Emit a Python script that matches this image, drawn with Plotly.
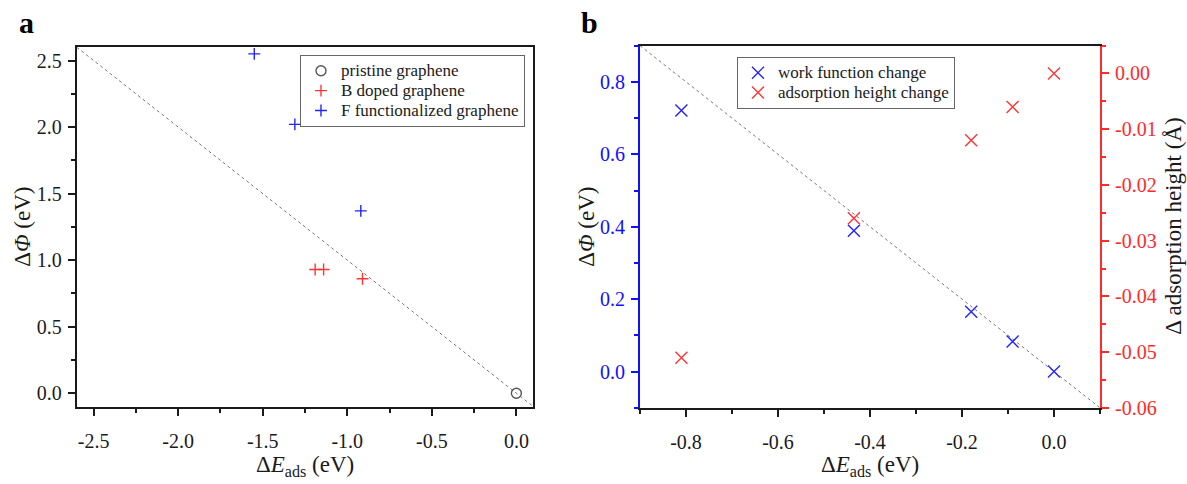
import plotly.graph_objects as go

# ---------------- data: panel a ----------------
pristine_x = [0.0]
pristine_y = [0.0]
b_doped_x = [-1.19, -1.14, -0.91]
b_doped_y = [0.93, 0.93, 0.86]
f_func_x = [-1.55, -1.31, -0.92]
f_func_y = [2.55, 2.02, 1.37]

# ---------------- data: panel b ----------------
eads_b = [-0.81, -0.435, -0.18, -0.09, 0.0]
work_function_change = [0.721, 0.389, 0.165, 0.083, 0.0]
adsorption_height_change = [-0.051, -0.026, -0.012, -0.006, 0.0]

# ---------------- ticks / ranges ----------------
xticks_a = [-2.5, -2.0, -1.5, -1.0, -0.5, 0.0]
yticks_a = [0.0, 0.5, 1.0, 1.5, 2.0, 2.5]
xticks_b = [-0.8, -0.6, -0.4, -0.2, 0.0]
yticks_b = [0.0, 0.2, 0.4, 0.6, 0.8]
yticks_b_right = [-0.06, -0.05, -0.04, -0.03, -0.02, -0.01, 0.0]
xrange_a = [-2.6, 0.1]
yrange_a = [-0.1, 2.6]
xrange_b = [-0.9, 0.1]
yrange_b = [-0.1, 0.9]
yrange_b_right = [-0.06, 0.005]

FONT = "Liberation Serif, Times New Roman, serif"
BLUE = "#2323FF"
RED = "#FF3535"
BLUE_AX = "#1010FF"
RED_AX = "#FF2A2A"
BLACK = "#1a1a1a"
W, H = 1187, 484


def lab(v, nd):
    return f"{v:.{nd}f}"


def lname(s):
    return f'<span style="font-size:17px">{s}</span>'


fig = go.Figure()

# diagonal reference lines (y = -x over the axis range)
fig.add_trace(go.Scatter(x=xrange_a, y=[-v for v in xrange_a], mode="lines",
                         line=dict(color="#777", width=1, dash="dot"),
                         showlegend=False, hoverinfo="skip", xaxis="x", yaxis="y"))
fig.add_trace(go.Scatter(x=xrange_b, y=[-v for v in xrange_b], mode="lines",
                         line=dict(color="#777", width=1, dash="dot"),
                         showlegend=False, hoverinfo="skip", xaxis="x2", yaxis="y2"))

# panel a markers
fig.add_trace(go.Scatter(x=pristine_x, y=pristine_y, mode="markers", name=lname("pristine graphene"),
                         marker=dict(symbol="circle-open", size=10, color="#555",
                                     line=dict(width=1.4, color="#555")),
                         xaxis="x", yaxis="y", legend="legend"))
fig.add_trace(go.Scatter(x=b_doped_x, y=b_doped_y, mode="markers", name=lname("B doped graphene"),
                         marker=dict(symbol="cross-thin-open", size=8.5, color=RED,
                                     line=dict(width=1.4, color=RED)),
                         xaxis="x", yaxis="y", legend="legend"))
fig.add_trace(go.Scatter(x=f_func_x, y=f_func_y, mode="markers",
                         name=lname("F functionalized graphene"),
                         marker=dict(symbol="cross-thin-open", size=8.5, color=BLUE,
                                     line=dict(width=1.4, color=BLUE)),
                         xaxis="x", yaxis="y", legend="legend"))

# panel b markers
fig.add_trace(go.Scatter(x=eads_b, y=work_function_change, mode="markers",
                         name=lname("work function change"),
                         marker=dict(symbol="x-thin-open", size=12, color=BLUE,
                                     line=dict(width=1.4, color=BLUE)),
                         xaxis="x2", yaxis="y2", legend="legend2"))
fig.add_trace(go.Scatter(x=eads_b, y=adsorption_height_change, mode="markers",
                         name=lname("adsorption height change"),
                         marker=dict(symbol="x-thin-open", size=12, color=RED,
                                     line=dict(width=1.4, color=RED)),
                         xaxis="x2", yaxis="y3", legend="legend2"))


def ax_common(color, standoff):
    return dict(showgrid=False, zeroline=False, showline=True, linecolor=color, linewidth=2,
                ticks="outside", ticklen=7, tickwidth=2, tickcolor=color,
                ticklabelstandoff=standoff,
                tickfont=dict(family=FONT, size=20, color=color))


xa = ax_common(BLACK, 8)
xa.update(domain=[76.7 / W, 533.3 / W], range=xrange_a, anchor="y", mirror=True,
          tickmode="array", tickvals=xticks_a, ticktext=[lab(v, 1) for v in xticks_a],
          minor=dict(ticks="outside", ticklen=4, tickwidth=2, tickcolor=BLACK, dtick=0.25, tick0=0))
ya = ax_common(BLACK, 2)
ya.update(domain=[1 - 416 / H, 1 - 48.3 / H], range=yrange_a, anchor="x", mirror=True,
          tickmode="array", tickvals=yticks_a, ticktext=[lab(v, 1) for v in yticks_a],
          minor=dict(ticks="outside", ticklen=4, tickwidth=2, tickcolor=BLACK, dtick=0.25, tick0=0))
xb = ax_common(BLACK, 8)
xb.update(domain=[640 / W, 1100 / W], range=xrange_b, anchor="y2", mirror=True,
          tickmode="array", tickvals=xticks_b, ticktext=[lab(v, 1) for v in xticks_b],
          minor=dict(ticks="outside", ticklen=4, tickwidth=2, tickcolor=BLACK, dtick=0.1, tick0=0))
yb = ax_common(BLUE_AX, 2)
yb.update(domain=[1 - 417.3 / H, 1 - 46.7 / H], range=yrange_b, anchor="x2",
          tickmode="array", tickvals=yticks_b, ticktext=[lab(v, 1) for v in yticks_b],
          minor=dict(ticks="outside", ticklen=4, tickwidth=2, tickcolor=BLUE_AX, dtick=0.1, tick0=0))
yb3 = ax_common(RED_AX, 2)
yb3.update(overlaying="y2", side="right", range=yrange_b_right, anchor="x2",
           tickmode="array", tickvals=yticks_b_right, ticktext=[lab(v, 2) for v in yticks_b_right],
           minor=dict(ticks="outside", ticklen=4, tickwidth=2, tickcolor=RED_AX, dtick=0.005, tick0=0))

legend_common = dict(font=dict(family=FONT, size=13, color=BLACK), bgcolor="white",
                     bordercolor="#666", borderwidth=1, xanchor="left", yanchor="top",
                     itemclick=False, itemdoubleclick=False, tracegroupgap=0)

title_font = dict(family=FONT, size=23, color=BLACK)
annotations = [
    dict(text="<b>a</b>", x=17 / W, y=1 - 23 / H, xref="paper", yref="paper", xanchor="left",
         yanchor="middle", showarrow=False, font=dict(family=FONT, size=30, color="black")),
    dict(text="<b>b</b>", x=579 / W, y=1 - 23 / H, xref="paper", yref="paper", xanchor="left",
         yanchor="middle", showarrow=False, font=dict(family=FONT, size=30, color="black")),
    dict(text="Δ<i>E</i><sub>ads</sub> (eV)", x=305 / W, y=1 - 477 / H, xref="paper", yref="paper",
         xanchor="center", yanchor="middle", showarrow=False, font=title_font),
    dict(text="Δ<i>E</i><sub>ads</sub> (eV)", x=870 / W, y=1 - 477 / H, xref="paper", yref="paper",
         xanchor="center", yanchor="middle", showarrow=False, font=title_font),
    dict(text="Δ<i>Φ</i> (eV)", x=23 / W, y=1 - 232 / H, xref="paper", yref="paper",
         xanchor="center", yanchor="middle", textangle=-90, showarrow=False, font=title_font),
    dict(text="Δ<i>Φ</i> (eV)", x=587 / W, y=1 - 232 / H, xref="paper", yref="paper",
         xanchor="center", yanchor="middle", textangle=-90, showarrow=False, font=title_font),
    dict(text="Δ adsorption height (Å)", x=1174 / W, y=1 - 232 / H, xref="paper", yref="paper",
         xanchor="center", yanchor="middle", textangle=-90, showarrow=False, font=title_font),
]

fig.update_layout(
    width=W, height=H, margin=dict(l=0, r=0, t=0, b=0),
    paper_bgcolor="white", plot_bgcolor="white",
    font=dict(family=FONT, color=BLACK),
    xaxis=xa, yaxis=ya, xaxis2=xb, yaxis2=yb, yaxis3=yb3,
    legend=dict(x=300 / W, y=1 - 56 / H, **legend_common),
    legend2=dict(x=737 / W, y=1 - 58 / H, **legend_common),
    annotations=annotations,
)

fig.write_html(
    "out.html",
    config={"displayModeBar": False},
    post_script="document.body.style.margin='0';document.body.style.overflow='hidden';",
)
